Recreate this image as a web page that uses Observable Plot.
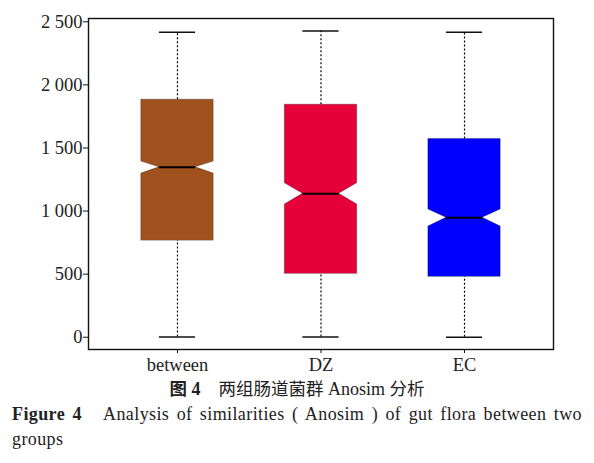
<!DOCTYPE html>
<html>
<head>
<meta charset="utf-8">
<script src="https://cdn.jsdelivr.net/npm/d3@7"></script>
<script src="https://cdn.jsdelivr.net/npm/@observablehq/plot@0.6"></script>
<style>
  html, body { margin: 0; padding: 0; background: #fff; }
  #wrap { width: 594px; }
  .serif { font-family: "Liberation Serif", "Times New Roman", Tinos, "DejaVu Serif", serif; }
  .cap1 { font-size: 18px; line-height: 26px; text-align: center; color: #222; margin-top: 0px; }
  .cap1 .cn { font-family: "Noto Sans CJK SC", sans-serif; font-size: 17.5px; }
  .cap2 { font-size: 18px; line-height: 25px; color: #222; margin-left: 12px; width: 570px; text-align: justify; text-align-last: justify; letter-spacing: 0.4px; }
  .cap3 { font-size: 18px; line-height: 25px; color: #222; margin-left: 12px; letter-spacing: 0.4px; }
  svg text { font-family: "Liberation Serif", "Times New Roman", Tinos, "DejaVu Serif", serif; }
</style>
</head>
<body>
<div id="wrap"></div>
<script>
// ---- data ----
const groups = ["between", "DZ", "EC"];
const whiskerLow = [2, 2, 0];
const q1 = [767, 504, 480];
const notchLow = [1297, 1052, 878];
const median = [1347, 1137, 947];
const notchHigh = [1392, 1221, 1013];
const q3 = [1883, 1843, 1572];
const whiskerHigh = [2418, 2426, 2418];
const yTicks = [0, 500, 1000, 1500, 2000, 2500];
const palette = ["#A0521E", "#E6003A", "#0000FF"];

// ---- build tables ----
const hw = 0.252;           // half box width (x units)
const idx = groups.map((g, i) => i);
const outline = idx.flatMap(i => {
  const c = i + 1, g = groups[i];
  return [
    {g, y: q1[i], x1: c - hw, x2: c + hw},
    {g, y: notchLow[i], x1: c - hw, x2: c + hw},
    {g, y: median[i], x1: c - hw / 2, x2: c + hw / 2},
    {g, y: notchHigh[i], x1: c - hw, x2: c + hw},
    {g, y: q3[i], x1: c - hw, x2: c + hw}
  ];
});
const stats = idx.map(i => ({
  g: groups[i], c: i + 1,
  lo: whiskerLow[i], q1: q1[i], med: median[i], q3: q3[i], hi: whiskerHigh[i]
}));

const fmt = v => v >= 1000 ? d3.format(",")(v).replace(",", " ") : String(v);
const serif = '"Liberation Serif", "Times New Roman", Tinos, "DejaVu Serif", serif';

const chart = Plot.plot({
  width: 594,
  height: 375,
  marginLeft: 88,
  marginRight: 41,
  marginTop: 18,
  marginBottom: 26,
  style: { fontFamily: serif, fontSize: "18.5px", color: "#222", background: "#fff" },
  x: { domain: [0.38, 3.62], axis: null },
  y: { domain: [-97, 2526], axis: null },
  color: { domain: groups, range: palette },
  marks: [
    Plot.ruleX(stats, { x: "c", y1: "q3", y2: "hi", stroke: "#000", strokeWidth: 1.2, strokeDasharray: "2,2" }),
    Plot.ruleX(stats, { x: "c", y1: "lo", y2: "q1", stroke: "#000", strokeWidth: 1.2, strokeDasharray: "2,2" }),
    Plot.ruleY(stats, { y: "hi", x1: d => d.c - hw / 2, x2: d => d.c + hw / 2, stroke: "#111", strokeWidth: 1.5 }),
    Plot.ruleY(stats, { y: "lo", x1: d => d.c - hw / 2, x2: d => d.c + hw / 2, stroke: "#111", strokeWidth: 1.5 }),
    Plot.areaX(outline, { y: "y", x1: "x1", x2: "x2", z: "g", fill: "g", stroke: "#000", strokeOpacity: 0.35, strokeWidth: 0.8, curve: "linear" }),
    Plot.ruleY(stats, { y: "med", x1: d => d.c - hw / 2, x2: d => d.c + hw / 2, stroke: "#000", strokeWidth: 2 }),
    Plot.axisY({ ticks: yTicks, tickFormat: fmt, tickSize: 5, tickPadding: 1, fontSize: 18.5, stroke: "#111" }),
    Plot.axisX({ ticks: [1, 2, 3], tickFormat: d => groups[d - 1], tickSize: 4, tickPadding: 4, fontSize: 18.5, stroke: "#111" }),
    Plot.frame({ stroke: "#111", strokeWidth: 1.4 })
  ]
});

const wrap = document.getElementById("wrap");
wrap.appendChild(chart);

const c1 = document.createElement("div");
c1.className = "cap1 serif";
c1.innerHTML = '<span class="cn" style="font-weight:bold">图</span> <b>4</b>&nbsp;&nbsp;&nbsp;&nbsp;<span class="cn">两组肠道菌群</span> Anosim <span class="cn">分析</span>';
wrap.appendChild(c1);

const c2 = document.createElement("div");
c2.className = "cap2 serif";
c2.innerHTML = '<b>Figure 4</b>&nbsp;&nbsp; Analysis of similarities ( Anosim ) of gut flora between two';
wrap.appendChild(c2);

const c3 = document.createElement("div");
c3.className = "cap3 serif";
c3.textContent = "groups";
wrap.appendChild(c3);
</script>
</body>
</html>
